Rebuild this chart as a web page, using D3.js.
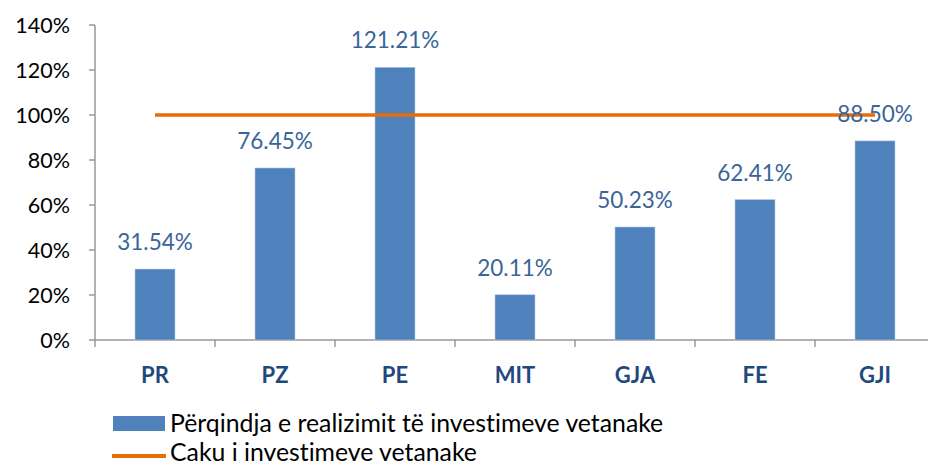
<!DOCTYPE html>
<html>
<head>
<meta charset='utf-8'>
<script src='https://d3js.org/d3.v7.min.js'></script>
<style>
  body { margin: 0; background: #fff; }
  svg text { font-family: Lato, "Open Sans", sans-serif; font-variant-ligatures: none; }
</style>
</head>
<body>
<div id='chart'></div>
<script>
const categories = ['PR', 'PZ', 'PE', 'MIT', 'GJA', 'FE', 'GJI'];
const values = [31.54, 76.45, 121.21, 20.11, 50.23, 62.41, 88.50];
const target = 100;
const yTicks = [0, 20, 40, 60, 80, 100, 120, 140];
const legendLabels = ['Përqindja e realizimit të investimeve vetanake', 'Caku i investimeve vetanake'];

const width = 928, height = 468;
const svg = d3.select('#chart').append('svg')
    .attr('width', width).attr('height', height);

const x = d3.scaleBand().domain(categories).range([95, 935]);
const y = d3.scaleLinear().domain([0, 140]).range([340, 25]);

// y axis
const yAxis = svg.append('g');
yAxis.append('line').attr('x1', 95).attr('x2', 95)
    .attr('y1', y(140)).attr('y2', y(0))
    .attr('stroke', '#999').attr('stroke-width', 1.5);
yAxis.selectAll('.yt').data(yTicks).enter().append('line')
    .attr('x1', 89).attr('x2', 95)
    .attr('y1', d => y(d)).attr('y2', d => y(d))
    .attr('stroke', '#999').attr('stroke-width', 1.5);
yAxis.selectAll('.yl').data(yTicks).enter().append('text')
    .attr('x', 70).attr('y', d => y(d)).attr('dy', '0.35em')
    .attr('text-anchor', 'end').attr('font-size', 21.5).attr('fill', '#000')
    .text(d => d + '%');

// x axis
svg.append('line').attr('x1', 95).attr('x2', 935)
    .attr('y1', y(0)).attr('y2', y(0))
    .attr('stroke', '#999').attr('stroke-width', 1.5);
svg.selectAll('.xt').data(categories).enter().append('line')
    .attr('x1', d => x(d)).attr('x2', d => x(d))
    .attr('y1', y(0)).attr('y2', y(0) + 7)
    .attr('stroke', '#999').attr('stroke-width', 1.5);
svg.selectAll('.xl').data(categories).enter().append('text')
    .attr('x', d => x(d) + x.bandwidth() / 2).attr('y', 383)
    .attr('text-anchor', 'middle').attr('font-size', 22).attr('font-weight', 'bold')
    .attr('fill', '#1F497D')
    .text(d => d);

// bars
const barW = 40;
svg.selectAll('.bar').data(values).enter().append('rect')
    .attr('x', (d, i) => x(categories[i]) + x.bandwidth() / 2 - barW / 2)
    .attr('y', d => y(d))
    .attr('width', barW).attr('height', d => y(0) - y(d))
    .attr('fill', '#4F81BD').attr('stroke', '#b9cde5').attr('stroke-width', 0.6);

// target line
svg.append('line')
    .attr('x1', x(categories[0]) + x.bandwidth() / 2)
    .attr('x2', x(categories[categories.length - 1]) + x.bandwidth() / 2)
    .attr('y1', y(target)).attr('y2', y(target))
    .attr('stroke', '#E46C0A').attr('stroke-width', 3.5);

// value labels
svg.selectAll('.vl').data(values).enter().append('text')
    .attr('x', (d, i) => x(categories[i]) + x.bandwidth() / 2)
    .attr('y', d => y(d) - 19)
    .attr('text-anchor', 'middle').attr('font-size', 22.5).attr('fill', '#3A6598')
    .text(d => d.toFixed(2) + '%');

// legend
const lg = svg.append('g');
lg.append('rect').attr('x', 113).attr('y', 416).attr('width', 52).attr('height', 15)
    .attr('fill', '#4F81BD');
lg.append('text').attr('x', 170).attr('y', 432).attr('font-size', 24.8).attr('fill', '#000')
    .text(legendLabels[0]);
lg.append('line').attr('x1', 112).attr('x2', 166).attr('y1', 456).attr('y2', 456)
    .attr('stroke', '#E46C0A').attr('stroke-width', 4);
lg.append('text').attr('x', 170).attr('y', 461).attr('font-size', 24.8).attr('fill', '#000')
    .text(legendLabels[1]);
</script>
</body>
</html>
